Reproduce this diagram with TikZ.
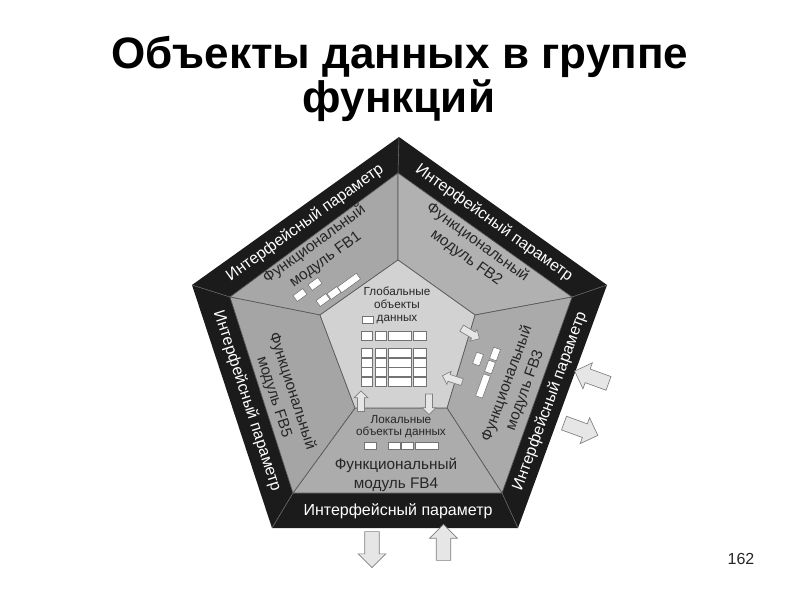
\documentclass[tikz,border=0pt]{standalone}
\usepackage{fontspec}
\setmainfont{Liberation Sans}
\usetikzlibrary{shapes.arrows}
\definecolor{bandc}{HTML}{1B1B1B}
\definecolor{fbA}{HTML}{A7A7A7}
\definecolor{fbB}{HTML}{B1B1B1}
\definecolor{fbC}{HTML}{AAAAAA}
\definecolor{fbD}{HTML}{ACACAC}
\definecolor{fbE}{HTML}{A5A5A5}
\definecolor{innerc}{HTML}{D2D2D2}
\definecolor{arrowc}{HTML}{E6E6E6}
\begin{document}
\begin{tikzpicture}[x=0.75pt,y=-0.75pt,
  bandtxt/.style={text=white, font=\fontsize{12}{14}\selectfont, inner sep=0pt},
  modtxt/.style={text=black!85, font=\fontsize{11.5}{14.2}\selectfont, align=center, inner sep=0pt},
  smalltxt/.style={text=black!85, font=\fontsize{8.8}{9.5}\selectfont, align=center, inner sep=0pt},
  cell/.style={draw=black!55, fill=white, line width=0.4pt, inner sep=0pt, minimum height=5.4pt, minimum width=9pt},
  cellw/.style={cell, minimum width=17.5pt},
  modpoly/.style={draw=black!65, line width=0.5pt},
  inarrow/.style={single arrow, draw=black!50, fill=arrowc, line width=0.5pt, inner xsep=0pt, inner ysep=2.4pt, single arrow head extend=2.5pt, single arrow tip angle=90, minimum height=15.5pt, minimum width=0pt},
  outarrow/.style={inarrow, inner ysep=5.2pt, single arrow head extend=4.9pt, minimum height=27pt}
]
\useasboundingbox[fill=white] (0,0) rectangle (800,600);

% title
\node[font=\fontsize{33}{36}\selectfont\bfseries, anchor=base] (t1) at (400,68) {Объекты данных в группе};
\node[font=\fontsize{33}{36}\selectfont\bfseries, anchor=base] (t2) at (399,112) {функций};
\node[font=\fontsize{12}{14}\selectfont, text=black!85] (pn) at (741,559) {162};

% vertices
\coordinate (o1) at (399,137); \coordinate (o2) at (192,285); \coordinate (o3) at (272,528);
\coordinate (o4) at (518,528); \coordinate (o5) at (607,285);
\coordinate (m1) at (398,173); \coordinate (m2) at (230,297); \coordinate (m3) at (293,493);
\coordinate (m4) at (502,493); \coordinate (m5) at (572,297);
\coordinate (i1) at (398,260); \coordinate (i2) at (320,315); \coordinate (i3) at (355,408);
\coordinate (i4) at (447,408); \coordinate (i5) at (475,315);

% band
\fill[bandc] (o1)--(o2)--(o3)--(o4)--(o5)--cycle;
\foreach \k in {1,...,5}{\draw[black!55, line width=0.4pt] (m\k)--(o\k);}

% modules
\filldraw[modpoly, fill=fbA] (i1)--(m1)--(m2)--(i2)--cycle;
\filldraw[modpoly, fill=fbB] (i1)--(m1)--(m5)--(i5)--cycle;
\filldraw[modpoly, fill=fbC] (i5)--(m5)--(m4)--(i4)--cycle;
\filldraw[modpoly, fill=fbD] (i4)--(m4)--(m3)--(i3)--cycle;
\filldraw[modpoly, fill=fbE] (i3)--(m3)--(m2)--(i2)--cycle;
\filldraw[modpoly, fill=innerc] (i1)--(i2)--(i3)--(i4)--(i5)--cycle;

% band texts
\node[bandtxt, rotate=35.6] (b1) at (305,223) {Интерфейсный параметр};
\node[bandtxt, rotate=-35.5] (b2) at (494,223) {Интерфейсный параметр};
\node[bandtxt, rotate=70] (b3) at (550,401) {Интерфейсный параметр};
\node[bandtxt] (b4) at (398,511) {Интерфейсный параметр};
\node[bandtxt, rotate=-72] (b5) at (247,401) {Интерфейсный параметр};

% module texts
\node[modtxt, rotate=36] (f1) at (320,252) {Функциональный\\модуль FB1};
\node[modtxt, rotate=-36] (f2) at (472,250) {Функциональный\\модуль FB2};
\node[modtxt, rotate=70] (f3) at (516,387) {Функциональный\\модуль FB3};
\node[modtxt] (f4) at (396,475) {Функциональный\\модуль FB4};
\node[modtxt, rotate=-72] (f5) at (283,394) {Функциональный\\модуль FB5};

% inner texts
\node[smalltxt] (gl) at (397,305.5) {Глобальные\\объекты\\данных};
\node[smalltxt] (lo) at (401,426.5) {Локальные\\объекты данных};

% global cells
\node[cell, minimum width=8.3pt] (g00) at (367.5,320) {};
\foreach \r/\y in {1/336,2/353,3/362.5,4/372,5/381.5}{
  \foreach \c/\x/\w in {1/367/8.6pt,2/381/8.6pt,3/400/17.6pt,4/419.5/9.4pt}{
    \node[cell, minimum width=\w, minimum height=6.6pt] (g\r\c) at (\x,\y) {};
  }
}

% FB1 cells
\node[cell, rotate=36] (a1) at (300,295) {};
\node[cell, rotate=36] (a2) at (315,284) {};
\node[cell, rotate=36] (a3) at (323,300) {};
\node[cell, rotate=36] (a4) at (334,293) {};
\node[cellw, rotate=36] (a5) at (349,283) {};
% FB3 cells
\node[cell, rotate=70] (c1) at (478,359) {};
\node[cell, rotate=70] (c2) at (495,354) {};
\node[cell, rotate=70] (c3) at (490,367) {};
\node[cellw, rotate=70] (c4) at (483,386) {};
% FB4 cells
\node[cell] (d1) at (370,445.5) {};
\node[cell] (d2) at (394.5,445.5) {};
\node[cell] (d3) at (407.5,445.5) {};
\node[cellw] (d4) at (427,445.5) {};

% inner arrows
\node[inarrow, rotate=-31] (ar1) at (469,332.5) {};
\node[inarrow, rotate=162] (ar2) at (454,379.5) {};
\node[inarrow, rotate=90] (ar3) at (361,403) {};
\node[inarrow, rotate=-90] (ar4) at (429,402.5) {};

% outer arrows
\node[outarrow, rotate=160] (ar5) at (595,378.5) {};
\node[outarrow, rotate=-20] (ar6) at (577.5,428) {};
\node[outarrow, rotate=-90] (ar7) at (372,546) {};
\node[outarrow, rotate=90] (ar8) at (443.5,546) {};
\end{tikzpicture}
\end{document}
